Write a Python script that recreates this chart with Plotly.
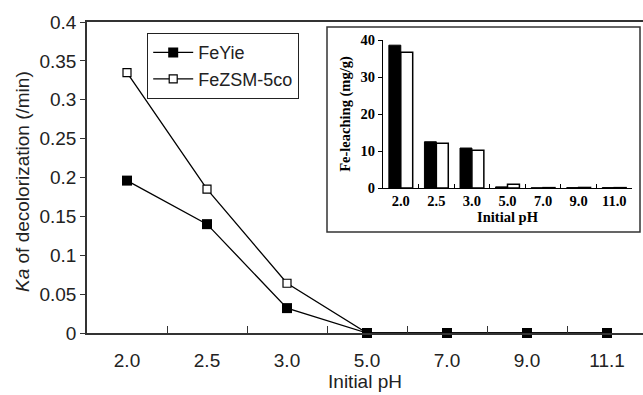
import plotly.graph_objects as go

# ---- data ----
ph_main = ["2.0", "2.5", "3.0", "5.0", "7.0", "9.0", "11.1"]
ka_feyie = [0.196, 0.140, 0.032, 0.0, 0.0, 0.0, 0.0]
ka_fezsm = [0.335, 0.185, 0.064, 0.0, 0.0, 0.0, 0.0]
y_tickvals = [0, 0.05, 0.1, 0.15, 0.2, 0.25, 0.3, 0.35, 0.4]
y_ticktext = ["0", "0.05", "0.1", "0.15", "0.2", "0.25", "0.3", "0.35", "0.4"]

ph_inset = ["2.0", "2.5", "3.0", "5.0", "7.0", "9.0", "11.0"]
leach_feyie = [38.6, 12.5, 10.8, 0.3, 0.05, 0.1, 0.1]
leach_fezsm = [36.7, 12.1, 10.2, 1.0, 0.1, 0.15, 0.1]
inset_tickvals = [0, 10, 20, 30, 40]

W, H = 643, 395
L, R, T, B = 87, 0, 22, 62
pw, ph = W - L - R, H - T - B

def px_x(x):
    return (x - L) / pw

def px_y(y):
    return (H - B - y) / ph

fig = go.Figure()

# main traces (FeZSM first so FeYie filled markers are on top)
fig.add_trace(go.Scatter(
    x=ph_main, y=ka_fezsm, name="FeZSM-5co", mode="lines+markers",
    line=dict(color="black", width=1.3),
    marker=dict(symbol="square", size=8, color="white",
                line=dict(color="black", width=1.2)),
    xaxis="x", yaxis="y", cliponaxis=False))
fig.add_trace(go.Scatter(
    x=ph_main, y=ka_feyie, name="FeYie", mode="lines+markers",
    line=dict(color="black", width=1.3),
    marker=dict(symbol="square", size=10, color="black"),
    xaxis="x", yaxis="y", cliponaxis=False))

# inset bars
fig.add_trace(go.Bar(
    x=ph_inset, y=leach_feyie, name="FeYie", showlegend=False,
    marker=dict(color="black", line=dict(color="black", width=1)),
    xaxis="x2", yaxis="y2"))
fig.add_trace(go.Bar(
    x=ph_inset, y=leach_fezsm, name="FeZSM-5co", showlegend=False,
    marker=dict(color="white", line=dict(color="black", width=1.5)),
    xaxis="x2", yaxis="y2"))

SANS = "Liberation Sans, Arial, sans-serif"
SERIF = "Liberation Serif, Times New Roman, serif"
tick_font = dict(family=SANS, size=19, color="#222")
title_font = dict(family=SANS, size=19, color="#222")
legend_font = dict(family=SANS, size=18, color="#222")
inset_font = dict(family=SERIF, size=14.5, color="black", weight="bold")

fig.update_layout(
    width=W, height=H,
    margin=dict(l=L, r=R, t=T, b=B),
    paper_bgcolor="white", plot_bgcolor="white",
    showlegend=True,
    barmode="group", bargap=0.33, bargroupgap=0,
    legend=dict(
        x=px_x(147), y=px_y(33), xanchor="left", yanchor="top",
        bordercolor="#222", borderwidth=1.2, bgcolor="white",
        font=legend_font, traceorder="reversed",
        tracegroupgap=0, itemwidth=40,
    ),
    xaxis=dict(
        domain=[0, 1], type="category", range=[-0.5, 6.45],
        showline=True, linecolor="#333", linewidth=1.5, mirror=True,
        ticks="inside", tickson="boundaries", ticklen=7, tickcolor="#333",
        tickfont=tick_font, ticklabelstandoff=9,
        showgrid=False, zeroline=False,
        title=dict(text="Initial pH", font=title_font, standoff=4),
        anchor="y",
    ),
    yaxis=dict(
        domain=[0, 1], range=[0, 0.4],
        tickvals=y_tickvals, ticktext=y_ticktext,
        showline=True, linecolor="#333", linewidth=1.5,
        ticks="outside", ticklen=5, tickcolor="#333",
        tickfont=tick_font, showgrid=False, zeroline=False,
        anchor="x",
    ),
    xaxis2=dict(
        domain=[px_x(383), px_x(632)], type="category", range=[-0.5, 6.5],
        showline=True, linecolor="black", linewidth=1,
        ticks="inside", tickson="boundaries", ticklen=4, tickcolor="black",
        tickfont=inset_font, showgrid=False, zeroline=False,
        title=dict(text="Initial pH", font=inset_font, standoff=3),
        anchor="y2",
    ),
    yaxis2=dict(
        domain=[px_y(188), px_y(40)], range=[0, 40],
        tickvals=inset_tickvals,
        showline=True, linecolor="black", linewidth=1,
        ticks="outside", ticklen=4, tickcolor="black",
        tickfont=inset_font, showgrid=False, zeroline=False,
        title=dict(text="Fe-leaching (mg/g)", font=inset_font, standoff=6),
        anchor="x2",
    ),
    shapes=[dict(
        type="rect", xref="paper", yref="paper",
        x0=px_x(327), x1=px_x(640), y0=px_y(232), y1=px_y(27),
        line=dict(color="#333", width=1.5), fillcolor="white", layer="below",
    )],
    annotations=[dict(
        text="<i>Ka</i> of decolorization (/min)", textangle=-90,
        xref="paper", yref="paper", x=px_x(22), y=px_y(182),
        xanchor="center", yanchor="middle", showarrow=False,
        font=title_font,
    )],
)

fig.write_html("out.html")
